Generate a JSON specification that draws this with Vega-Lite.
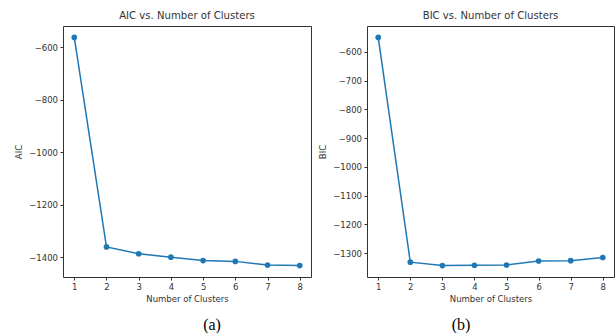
{
  "$schema": "https://vega.github.io/schema/vega-lite/v6.json",
  "padding": {"left": 14, "top": 10, "right": 0, "bottom": 0},
  "background": "white",
  "spacing": 6,
  "config": {
    "concat": {"spacing": 6},
    "view": {"stroke": "#333", "strokeWidth": 1},
    "font": "DejaVu Sans",
    "axis": {
      "grid": false,
      "domain": false,
      "tickColor": "#333",
      "tickSize": 3,
      "labelColor": "#333",
      "labelFont": "DejaVu Sans",
      "labelFontSize": 8.5,
      "labelPadding": 2.5,
      "titleFont": "DejaVu Sans",
      "titleFontSize": 8.5,
      "titleFontWeight": "normal",
      "titleColor": "#333"
    },
    "title": {"font": "DejaVu Sans", "fontSize": 10.1, "fontWeight": "normal", "color": "#333", "offset": 5, "anchor": "middle"}
  },
  "datasets": {
    "aic": [
      {"k": 1, "v": -563},
      {"k": 2, "v": -1361},
      {"k": 3, "v": -1387},
      {"k": 4, "v": -1400},
      {"k": 5, "v": -1413},
      {"k": 6, "v": -1416},
      {"k": 7, "v": -1430},
      {"k": 8, "v": -1432}
    ],
    "bic": [
      {"k": 1, "v": -550},
      {"k": 2, "v": -1331},
      {"k": 3, "v": -1343},
      {"k": 4, "v": -1342},
      {"k": 5, "v": -1341},
      {"k": 6, "v": -1327},
      {"k": 7, "v": -1326},
      {"k": 8, "v": -1315}
    ]
  },
  "resolve": {"scale": {"y": "independent"}},
  "hconcat": [
    {
      "vconcat": [
        {
          "width": 248,
          "height": 251,
          "data": {"name": "aic"},
          "title": {"text": "AIC vs. Number of Clusters", "frame": "group", "anchor": "middle"},
          "encoding": {
            "x": {"field": "k", "type": "quantitative", "scale": {"domain": [0.65, 8.35], "nice": false, "zero": false},
              "axis": {"values": [1, 2, 3, 4, 5, 6, 7, 8], "format": "d", "title": "Number of Clusters", "titlePadding": 3}},
            "y": {"field": "v", "type": "quantitative", "scale": {"domain": [-1475.5, -519.5], "nice": false, "zero": false},
              "axis": {"values": [-600, -800, -1000, -1200, -1400], "format": "d", "title": "AIC", "titlePadding": 5}}
          },
          "layer": [
            {"mark": {"type": "line", "color": "#1f77b4", "strokeWidth": 1.5}},
            {"mark": {"type": "point", "filled": true, "color": "#1f77b4", "opacity": 1, "size": 32}}
          ]
        }
      ],
      "title": {"text": "(a)", "orient": "bottom", "anchor": "middle", "frame": "group", "font": "Liberation Serif", "fontSize": 16, "color": "black", "dx": 149, "offset": 14}
    },
    {
      "vconcat": [
        {
          "width": 247,
          "height": 251,
          "data": {"name": "bic"},
          "title": {"text": "BIC vs. Number of Clusters", "frame": "group", "anchor": "middle"},
          "encoding": {
            "x": {"field": "k", "type": "quantitative", "scale": {"domain": [0.65, 8.35], "nice": false, "zero": false},
              "axis": {"values": [1, 2, 3, 4, 5, 6, 7, 8], "format": "d", "title": "Number of Clusters", "titlePadding": 3}},
            "y": {"field": "v", "type": "quantitative", "scale": {"domain": [-1382.65, -510.35], "nice": false, "zero": false},
              "axis": {"values": [-600, -700, -800, -900, -1000, -1100, -1200, -1300], "format": "d", "title": "BIC", "titlePadding": 5}}
          },
          "layer": [
            {"mark": {"type": "line", "color": "#1f77b4", "strokeWidth": 1.5}},
            {"mark": {"type": "point", "filled": true, "color": "#1f77b4", "opacity": 1, "size": 32}}
          ]
        }
      ],
      "title": {"text": "(b)", "orient": "bottom", "anchor": "middle", "frame": "group", "font": "Liberation Serif", "fontSize": 16, "color": "black", "dx": 94, "offset": 14}
    }
  ]
}
